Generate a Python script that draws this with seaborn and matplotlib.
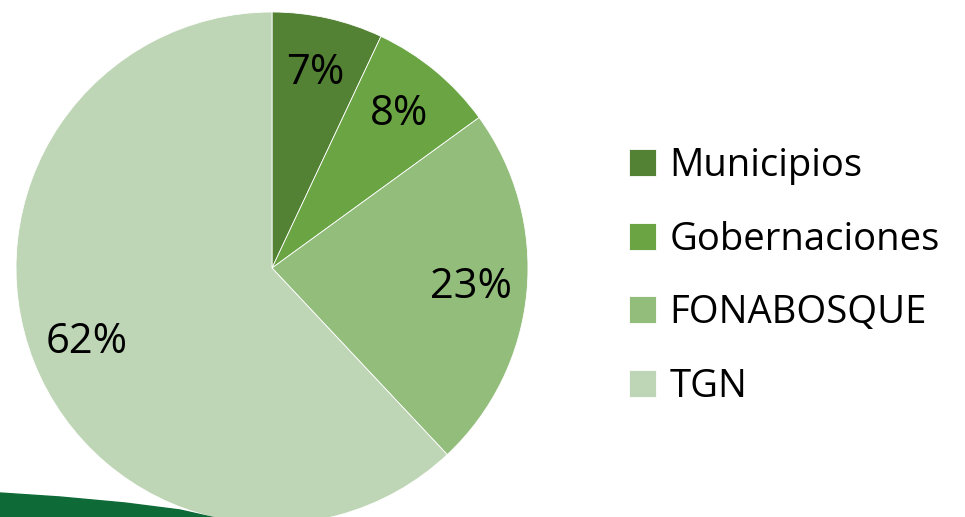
import matplotlib
matplotlib.use("Agg")
import matplotlib.pyplot as plt
import seaborn as sns
from matplotlib.patches import Polygon

sns.set_theme(style="white")
plt.rcParams['font.family'] = ['Open Sans', 'DejaVu Sans']

# Data
categories = ["Municipios", "Gobernaciones", "FONABOSQUE", "TGN"]
values = [7, 8, 23, 62]
colors = ["#548235", "#6AA443", "#93BD7B", "#BED6B5"]

fig = plt.figure(figsize=(9.65, 5.17), dpi=100)

# decorative green band in the bottom-left corner
band = Polygon([(0, 24 / 517), (60 / 965, 20 / 517), (125 / 965, 14 / 517),
                (180 / 965, 7 / 517), (220 / 965, -2 / 517), (0, -2 / 517)],
               closed=True, transform=fig.transFigure, color="#0E6B38", zorder=0)
fig.patches.append(band)

ax = fig.add_axes([16 / 965, -7 / 517, 512 / 965, 512 / 517])
ax.patch.set_alpha(0)
wedges, texts, autotexts = ax.pie(values, colors=colors, startangle=90, counterclock=False,
                                  autopct='%1.0f%%', pctdistance=0.78,
                                  wedgeprops=dict(edgecolor="white", linewidth=0.6),
                                  textprops=dict(fontsize=30, color="black"))
ax.set_xlim(-1, 1)
ax.set_ylim(-1, 1)
ax.set_aspect('equal')
ax.axis('off')

leg = fig.legend(wedges, categories, loc='upper left',
                 bbox_to_anchor=(629 / 965, (517 - 147) / 517),
                 frameon=False, fontsize=27.5, handlelength=0.7, handleheight=0.7,
                 handletextpad=0.36, labelspacing=0.93, borderpad=0, borderaxespad=0)
for t in leg.get_texts():
    t.set_color("black")

fig.savefig("out.png", dpi=100)
